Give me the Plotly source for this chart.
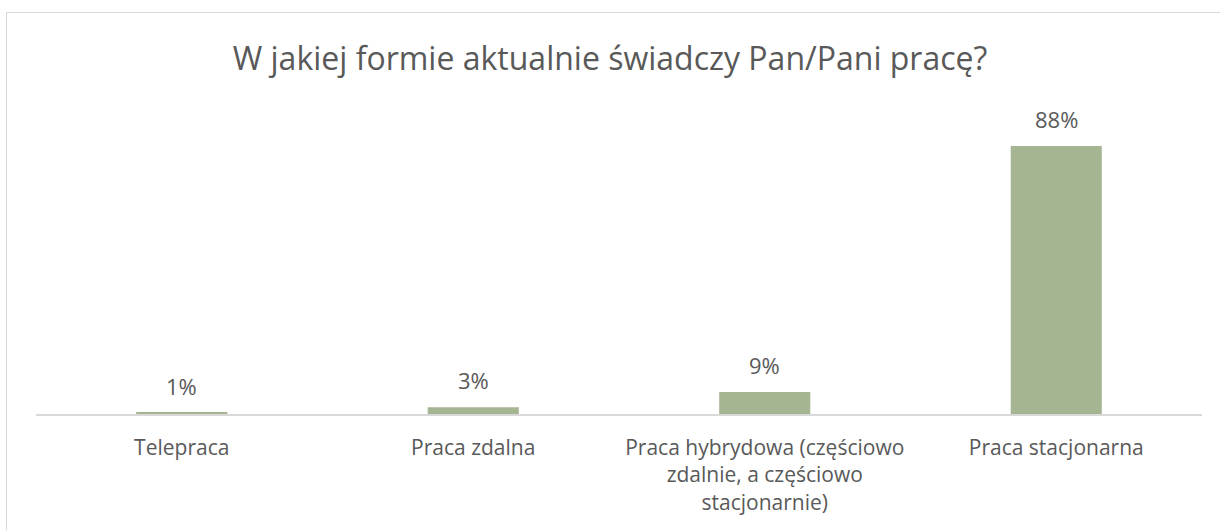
import plotly.graph_objects as go

categories = ["Telepraca", "Praca zdalna",
              "Praca hybrydowa (częściowo<br>zdalnie, a częściowo<br>stacjonarnie)",
              "Praca stacjonarna"]
values = [0.4, 2.2, 7.2, 88.0]
value_labels = ["1%", "3%", "9%", "88%"]
title_text = "W jakiej formie aktualnie świadczy Pan/Pani pracę?"

FONT = "Open Sans"
TXT = "#595959"

fig = go.Figure()
fig.add_trace(go.Bar(
    x=categories, y=values,
    marker=dict(color="#A6B591", line=dict(width=0)),
    hoverinfo="skip",
))

for c, v, t in zip(categories, values, value_labels):
    fig.add_annotation(x=c, y=v, text=t, showarrow=False,
                       yanchor="bottom", yshift=10,
                       font=dict(family=FONT, size=22, color=TXT))

fig.add_shape(type="rect", xref="paper", yref="paper",
              x0=-0.0253, x1=1.03, y0=-0.45, y1=1.2787,
              line=dict(color="#D9D9D9", width=1), fillcolor="rgba(0,0,0,0)",
              layer="below")

fig.update_layout(
    width=1220, height=530,
    margin=dict(l=36, r=18, t=100, b=116),
    paper_bgcolor="white", plot_bgcolor="white",
    bargap=0.6875,
    showlegend=False,
    hovermode=False,
    title=dict(text=title_text, x=0.5, xanchor="center", y=0.889, yanchor="middle",
               font=dict(family=FONT, size=32, color=TXT)),
    font=dict(family=FONT, color=TXT),
)
fig.update_xaxes(showline=True, linecolor="#D9D9D9", linewidth=1.5,
                 ticks="", tickfont=dict(family=FONT, size=21, color=TXT),
                 ticklabelstandoff=14,
                 showgrid=False, zeroline=False)
fig.update_yaxes(range=[0, 103.1], visible=False, showgrid=False, zeroline=False)

fig.write_html("out.html", config={"displayModeBar": False},
               post_script="document.body.style.margin='0';")
